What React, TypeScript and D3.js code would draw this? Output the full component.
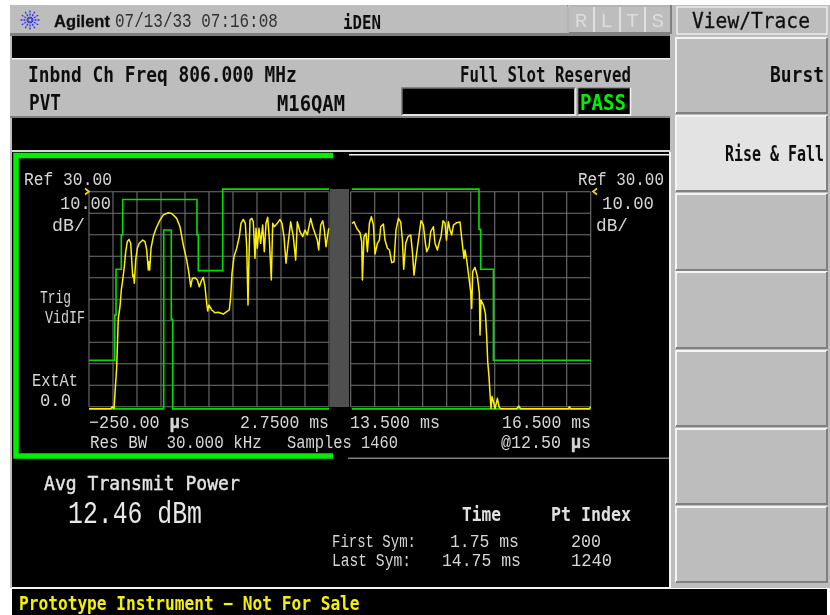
import React from 'react';
import * as d3 from 'd3';

// Trace: sample position within each 240-sample pane, level in dBm
const leftSample = [0,21.7,23.3,25,26,27.7,29.3,31,32.3,33.7,35.3,36.7,38.3,40,41.7,42.7,43.7,44.7,45.3,46.7,48.3,50.3,53.7,56,57.7,59.3,60,60.7,62,64.3,67,71,74.3,79.3,82.7,87.7,91,94.3,97.7,99.7,101.7,103.3,106,108.3,110.3,112.7,114.3,116,117.7,118.7,120,122.7,126,129.3,134.3,137.7,140.3,141.7,143,145,147.7,150.3,152,154.3,156.3,157.7,159,159.7,161,162.7,164.3,166,167,168.3,170,171.7,173.7,175.3,177,178.7,180.3,182.3,183.7,185.3,188.3,191,193,195,197,199.3,201.7,204.3,206.7,208.3,211,213.7,216,218.3,221.7,223.7,226,228.3,229.7,231.7,233.7,235.3,237,239.7];
const leftDb = [-71,-71,-70,-70.8,-63.8,-51.4,-28.9,-23.5,-15.7,-11.1,-4.9,2.1,6.8,7.8,6,-1.8,-9.5,-8.8,-12.6,-1.8,3.7,6,7.5,6.8,2.9,-6.4,-2.6,-6.4,3.7,9.1,12.9,16.8,19.2,20.2,19.9,17.6,13.7,5.2,-1.8,-7.2,-14.2,-10.3,-10,-11.1,-14.2,-11.1,-9.8,-14.2,-21.9,-25.5,-22.7,-25,-26.3,-26.1,-26.9,-25.8,-25,-18.8,-8,-0.2,3.7,9.1,15.3,17.1,15.3,4.4,-22.7,-5.7,16.8,17.6,16,-1,13,3.7,13,6,14.5,2.1,15.3,18.1,8.3,-11.1,15.3,13.7,15.3,17.1,15.3,9.1,-3.3,6.8,16,9.1,-1.8,16,11.4,9.1,12.2,9.9,17.6,13.7,10.6,7.5,2.9,14.5,16.5,12.2,4.4,13];
const rightSample = [1.3,3.3,6,9.3,11,11.7,13.3,15.3,16.7,18.7,20.7,22.7,24.3,26.7,28.7,30,32.7,34.3,36.7,38.7,41,43.3,45.3,47.7,50,51.7,53,55,57.3,60,61.7,63.3,65.3,67.7,70.3,72.7,74.7,76,78.3,80,82.7,84.3,86.7,88.3,90.3,92.3,94.3,95.7,97.7,99.3,101,102.7,106,109.3,111,113.3,114.3,116,117.7,120,121,122,124.3,126.7,128.7,129.3,130.3,132.7,134.7,136,137,138.3,139.3,140.3,141.3,142.7,144.3,146.7,148.3,150,166,168,170,217.7,218.7,220,238.7,240];
const rightDb = [15.3,16,13,10.9,6.8,-11.1,9.1,10.6,2.1,15.3,18.4,14.5,1,6,7.5,13.7,15,7.5,3.7,2.9,-3,-2.6,12.2,17.6,16,7.5,-6.1,6,9.1,9.9,2.1,-8.8,-1,7.5,16.5,14.5,6,2.1,4.4,11.4,13.7,6,2.9,6,9.1,16.5,15.3,7.5,16,12.2,9.9,14.5,15.6,15.9,8.3,-1,2.9,-1.8,-8,-16.5,-24.3,-7.2,-5.2,-9.5,-17.3,-36.7,-20.4,-22.7,-26.6,-37.4,-49,-56,-63.8,-70.8,-65.3,-67.7,-71,-66.1,-70,-71,-71,-69.7,-71,-71,-70,-71,-71,-70];

// Limit masks
const leftUpperSample = [0,25.7,25.7,27,27,32.3,32.3,33.7,33.7,108,108,109.3,109.3,133.7,133.7,240];
const leftUpperDb = [-48.4,-48.4,-27.4,-27.4,-6.1,-6.1,9.9,9.9,26.4,26.4,9.9,9.9,-6.7,-6.7,31.2,31.2];
const leftLowerSample = [0,74.7,74.7,82.3,82.3,83.7,83.7,240];
const leftLowerDb = [-71,-71,12.2,12.2,-29.4,-29.4,-71,-71];
const rightUpperSample = [1,128.3,128.3,130,130,142.7,142.7,240];
const rightUpperDb = [31.2,31.2,12.5,12.5,-6.1,-6.1,-48.4,-48.4];
const rightLowerSample = [1,240];
const rightLowerDb = [-71,-71];

const gridDb = [30,20,10,0,-10,-20,-30,-40,-50,-60,-70];
const gridSamples = [0,24,48,72,96,120,144,168,192,216,240];

const softKeys = [
  { label: 'Burst', y: 38, h: 75, fill: '#bdbdbd', base: 82, x0: 770 },
  { label: 'Rise & Fall', y: 116, h: 75, fill: '#e3e3e3', base: 161, x0: 725 },
  { label: '', y: 194, h: 76, fill: '#bdbdbd', base: 0, x0: 0 },
  { label: '', y: 272, h: 76, fill: '#bdbdbd', base: 0, x0: 0 },
  { label: '', y: 351, h: 75, fill: '#bdbdbd', base: 0, x0: 0 },
  { label: '', y: 429, h: 75, fill: '#bdbdbd', base: 0, x0: 0 },
  { label: '', y: 507, h: 75, fill: '#bdbdbd', base: 0, x0: 0 },
];

const MONO = '"Liberation Mono", monospace';
const BOLD = '"DejaVu Sans Mono", monospace';
const LIGHT = '#d6d6d6';

type TP = { x0: number; x1: number; y: number; s: string; size?: number; fill?: string; bold?: boolean; deja?: boolean; stroke?: number };
// Monospaced text squeezed horizontally to the narrow instrument glyphs
function T({ x0, x1, y, s, size = 21, fill = LIGHT, bold = false, deja = false, stroke = 0 }: TP) {
  const dj = bold || deja;
  const natural = s.length * size * (dj ? 0.602 : 0.6);
  const parts = s.split('μ');
  return (
    <text transform={`translate(${x0} ${y}) scale(${(x1 - x0) / natural} 1)`} fontSize={size}
      fontFamily={dj ? BOLD : MONO} fontWeight={bold ? 700 : 400} fill={fill}
      stroke={stroke ? fill : 'none'} strokeWidth={stroke} xmlSpace="preserve">
      {parts.length > 1 ? <>{parts[0]}<tspan fontWeight={700} stroke={fill} strokeWidth={0.5}>μ</tspan>{parts[1]}</> : s}
    </text>
  );
}

function Bevel({ x, y, w, h, fill }: { x: number; y: number; w: number; h: number; fill: string }) {
  return (
    <g>
      <rect x={x} y={y} width={w} height={h} fill={fill} />
      <path d={`M${x} ${y + h}V${y}H${x + w}`} fill="none" stroke="#f4f4f4" strokeWidth={2} />
      <path d={`M${x} ${y + h}H${x + w}V${y}`} fill="none" stroke="#808080" strokeWidth={2} />
    </g>
  );
}

export default function App() {
  const y = d3.scaleLinear().domain([30, -70]).range([191.7, 406.7]);
  const xL = d3.scaleLinear().domain([0, 240]).range([89, 329]);
  const xR = d3.scaleLinear().domain([0, 240]).range([350.7, 590.7]);
  const path = (xs: number[], ys: number[], sx: d3.ScaleLinear<number, number>) =>
    d3.line<number>().x((d) => sx(d)).y((_, i) => y(ys[i]))(xs) ?? '';

  const star = d3.range(0, 12).map((i) => (i * Math.PI) / 6);

  return (
    <svg width={830} height={615} style={{ position: 'fixed', left: 0, top: 0, display: 'block' }}>
      <defs>
        <filter id="soft" x="0" y="0" width="100%" height="100%">
          <feGaussianBlur stdDeviation="0.5" />
        </filter>
      </defs>
      <rect width={830} height={615} fill="#fff" />
      <g filter="url(#soft)">
        <rect x={10} y={5} width={820} height={583} fill="#bdbdbd" />
        <rect x={10} y={33} width={660} height={3} fill="#808080" />
        <rect x={12} y={36} width={658} height={22} fill="#000" />
        <rect x={12} y={58} width={658} height={1.5} fill="#f0f0f0" />
        <rect x={10} y={116} width={660} height={2} fill="#808080" />
        <rect x={12} y={118} width={658} height={32} fill="#000" />
        <rect x={12} y={150} width={658} height={2} fill="#d8d8d8" />
        <rect x={12} y={152} width={658} height={436} fill="#000" />
        <rect x={349} y={154} width={321} height={1.5} fill="#f0f0f0" />
        <rect x={348} y={457.5} width={322} height={1.5} fill="#808080" />
        <rect x={669} y={152} width={2} height={436} fill="#f4f4f4" />
        <rect x={12} y={587} width={659} height={2} fill="#f4f4f4" />
        <rect x={12} y={589} width={815} height={26} fill="#000" />

        {/* active window */}
        <path d="M333 155.5H16V456H333" fill="none" stroke="#00f000" strokeWidth={5.5} />

        {/* status line */}
        <g stroke="#2a2af5" strokeWidth={1.3}>
          {star.map((a, i) => (
            <line key={i} x1={30 + 1.5 * Math.cos(a)} y1={20 + 1.5 * Math.sin(a)} x2={30 + 10 * Math.cos(a)} y2={20 + 10 * Math.sin(a)} strokeDasharray="2 1" />
          ))}
        </g>
        <text x={54} y={27} fontSize={16.5} fontWeight={700} fontFamily='"Liberation Sans", sans-serif' fill="#111" stroke="#111" strokeWidth={0.3}>Agilent</text>
        <T x0={115} x1={278} y={27} s="07/13/33 07:16:08" size={21} fill="#333" />
        <T x0={343} x1={381} y={29} s="iDEN" size={20} fill="#111" bold />

        {/* RLTS */}
        <rect x={568} y={6} width={103} height={27} fill="none" stroke="#808080" strokeWidth={2} />
        <path d="M568 33V6H670" fill="none" stroke="#e8e8e8" strokeWidth={1} />
        {[594, 620, 645].map((v) => <line key={v} x1={v} x2={v} y1={7} y2={32} stroke="#ececec" strokeWidth={1.5} />)}
        {['R', 'L', 'T', 'S'].map((c, i) => (
          <text key={c} x={581 + i * 25.6} y={27} textAnchor="middle" fontFamily={MONO} fontSize={21} fill="#dcdcdc">{c}</text>
        ))}

        {/* title rows */}
        <T x0={28} x1={297} y={82} s="Inbnd Ch Freq 806.000 MHz" size={21} fill="#111" bold />
        <T x0={29} x1={61} y={110} s="PVT" size={21} fill="#111" bold />
        <T x0={277} x1={345} y={111} s="M16QAM" size={21} fill="#111" bold />
        <T x0={460} x1={631} y={82} s="Full Slot Reserved" size={21} fill="#111" bold />
        <rect x={402} y={88} width={173} height={26} fill="#000" />
        <path d="M402 115H575V88" fill="none" stroke="#f4f4f4" strokeWidth={1.5} />
        <path d="M402 115V88H575" fill="none" stroke="#707070" strokeWidth={1.5} />
        <rect x={578} y={88} width={52} height={26} fill="#000" />
        <path d="M578 115H630.5V88" fill="none" stroke="#f4f4f4" strokeWidth={1.5} />
        <path d="M578 115V88H630" fill="none" stroke="#707070" strokeWidth={1} />
        <T x0={580} x1={626} y={110} s="PASS" size={21} fill="#00f000" bold />

        {/* soft keys */}
        <rect x={677} y={7} width={150} height={27} fill="#bdbdbd" stroke="#ececec" strokeWidth={1.5} />
        <T x0={692} x1={810} y={28} s="View/Trace" size={21} fill="#111" deja stroke={0.3} />
        {softKeys.map((k) => (
          <g key={k.y}>
            <Bevel x={676} y={k.y} w={151} h={k.h} fill={k.fill} />
            {k.label && <T x0={k.x0} x1={824} y={k.base} s={k.label} size={21} fill="#111" bold />}
          </g>
        ))}

        {/* grid */}
        <rect x={330} y={189} width={19} height={218} fill="#505050" />
        <g stroke="#707070" strokeWidth={1.1}>
          {[xL, xR].map((sx, p) => (
            <g key={p}>
              {gridSamples.map((s) => <line key={s} x1={sx(s)} x2={sx(s)} y1={y(30)} y2={y(-70)} />)}
              {gridDb.map((d) => <line key={d} x1={sx(0)} x2={sx(240)} y1={y(d)} y2={y(d)} />)}
            </g>
          ))}
        </g>

        {/* limit masks */}
        <g fill="none" stroke="#00e000" strokeWidth={1.6}>
          <path d={path(leftUpperSample, leftUpperDb, xL)} />
          <path d={path(leftLowerSample, leftLowerDb, xL)} />
          <path d={path(rightUpperSample, rightUpperDb, xR)} />
          <path d={path(rightLowerSample, rightLowerDb, xR)} />
        </g>

        {/* traces */}
        <g fill="none" stroke="#fff000" strokeWidth={1.5} strokeLinejoin="round">
          <path d={path(leftSample, leftDb, xL)} />
          <path d={path(rightSample, rightDb, xR)} />
        </g>

        {/* ref markers */}
        <path d="M85 188.5L89 191.5L85 194.5" fill="none" stroke="#f2e000" strokeWidth={1.6} />
        <path d="M597 188.5L593 191.5L597 194.5" fill="none" stroke="#f2e000" strokeWidth={1.6} />

        {/* plot annotations */}
        <T x0={24} x1={112} y={185} s="Ref 30.00" size={19} />
        <T x0={578} x1={664} y={185} s="Ref 30.00" size={19} />
        <T x0={60} x1={111} y={209} s="10.00" size={19} />
        <T x0={52} x1={85} y={231} s="dB/" size={19} />
        <T x0={602} x1={654} y={209} s="10.00" size={19} />
        <T x0={596} x1={628} y={231} s="dB/" size={19} />
        <T x0={40} x1={71} y={303} s="Trig" size={19} />
        <T x0={45} x1={85} y={323} s="VidIF" size={19} />
        <T x0={32} x1={78} y={386} s="ExtAt" size={19} />
        <T x0={40} x1={71} y={406} s="0.0" size={19} />
        <T x0={89} x1={190} y={428} s="−250.00 μs" size={18} />
        <T x0={240} x1={329} y={428} s="2.7500 ms" size={18} />
        <T x0={350} x1={440} y={428} s="13.500 ms" size={18} />
        <T x0={502} x1={591} y={428} s="16.500 ms" size={18} />
        <T x0={90} x1={262} y={448} s="Res BW  30.000 kHz" size={18} />
        <T x0={287} x1={398} y={448} s="Samples 1460" size={18} />
        <T x0={501} x1={591} y={448} s="@12.50 μs" size={18} />

        {/* results */}
        <T x0={44} x1={240} y={490} s="Avg Transmit Power" size={20} deja stroke={0.45} fill="#e4e4e4" />
        <T x0={68} x1={202} y={523} s="12.46 dBm" size={32} fill="#e8e8e8" />
        <T x0={462} x1={501} y={521} s="Time" size={19} bold fill="#e0e0e0" />
        <T x0={551} x1={631} y={521} s="Pt Index" size={19} bold fill="#e0e0e0" />
        <T x0={332} x1={416} y={547} s="First Sym:" size={18} />
        <T x0={332} x1={411} y={566} s="Last Sym:" size={18} />
        <T x0={450} x1={519} y={547} s="1.75 ms" size={18} />
        <T x0={442} x1={521} y={566} s="14.75 ms" size={18} />
        <T x0={571} x1={601} y={547} s="200" size={18} />
        <T x0={571} x1={612} y={566} s="1240" size={18} />

        <T x0={19} x1={360} y={610} s="Prototype Instrument − Not For Sale" size={19} fill="#f5f000" bold />
      </g>
    </svg>
  );
}
